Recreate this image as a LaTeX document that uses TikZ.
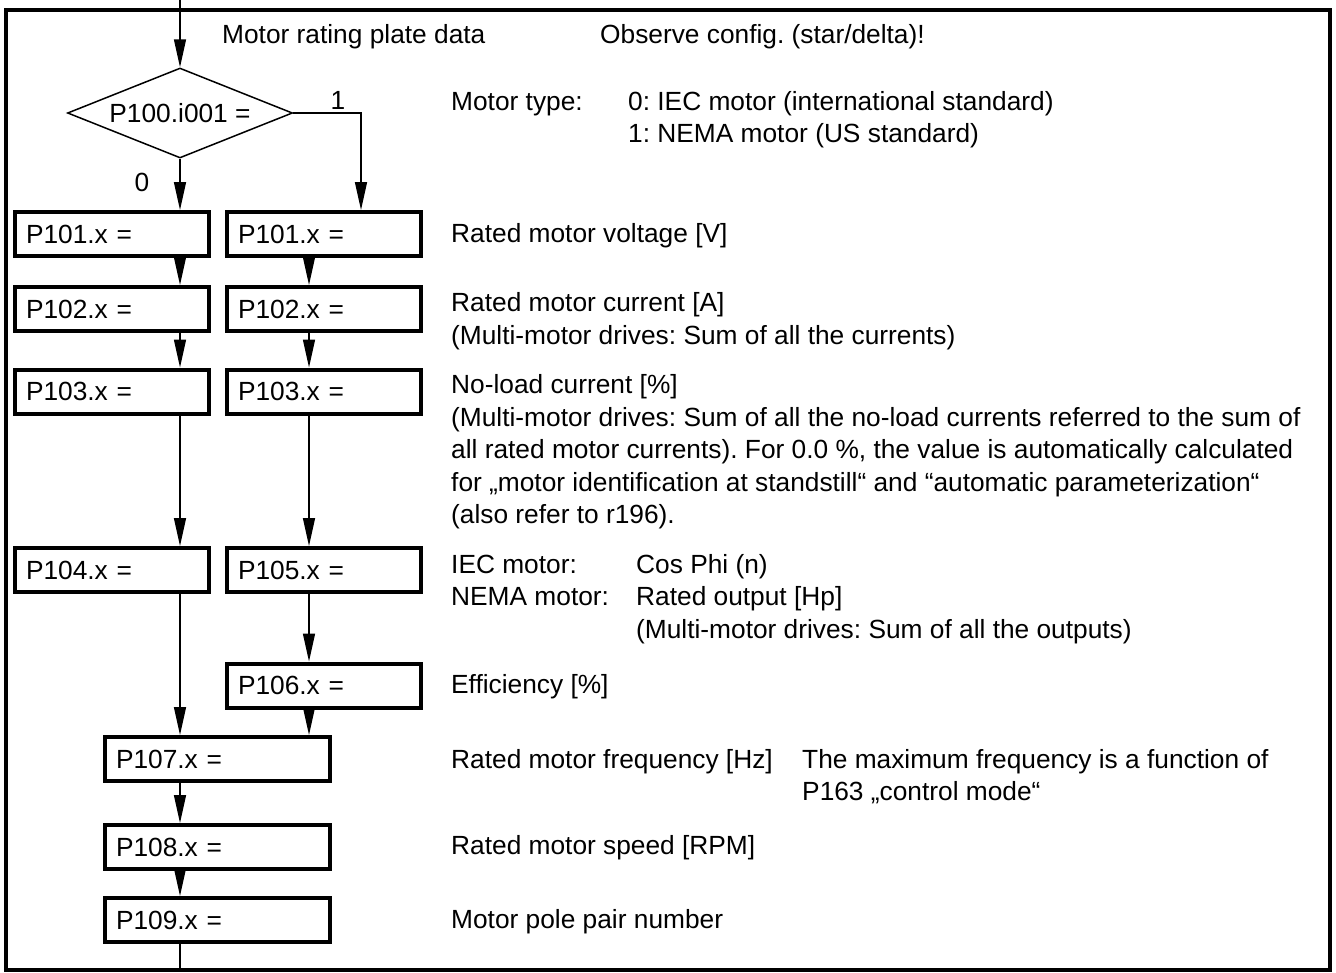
\documentclass[tikz,border=0pt]{standalone}
\usepackage{fontspec}
\setmainfont{Liberation Sans}
\usetikzlibrary{arrows.meta,shapes.geometric}
\frenchspacing
\begin{document}
\begin{tikzpicture}[x=1pt,y=-1pt,
  every node/.style={font=\fontsize{26.3}{30}\selectfont},
  pbox/.style={draw,line width=4pt,rectangle,minimum height=44pt,inner ysep=0pt,inner xsep=11pt,align=left,text width=172pt},
  wbox/.style={pbox,text width=203pt},
  desc/.style={anchor=base west,inner sep=0pt},
  conn/.style={line width=1.5pt,-{Triangle[length=28pt,width=12pt]}},
  plain/.style={line width=1.5pt}]
\useasboundingbox (0,0) rectangle (1336,972);
\draw[line width=4pt] (5.5,9.5) rectangle (1330,969.5);
% decision
\node[draw,line width=1.5pt,shape=diamond,aspect=2.5,minimum width=225pt,minimum height=90pt,inner sep=0pt] (dia) at (180,113) {P100.i001 =};
\coordinate (top) at (180,0);
\coordinate (cl) at (180,0);
\coordinate (cr) at (309,0);
\coordinate (c1) at (361,113);
% boxes
\node[pbox] (b101l) at (112,234) {P101.x =};
\node[pbox] (b101r) at (324,234) {P101.x =};
\node[pbox] (b102l) at (112,309) {P102.x =};
\node[pbox] (b102r) at (324,309) {P102.x =};
\node[pbox] (b103l) at (112,391.5) {P103.x =};
\node[pbox] (b103r) at (324,391.5) {P103.x =};
\node[pbox] (b104) at (112,570) {P104.x =};
\node[pbox] (b105) at (324,570) {P105.x =};
\node[pbox] (b106) at (324,685.5) {P106.x =};
\node[wbox] (b107) at (217.5,759) {P107.x =};
\node[wbox] (b108) at (217.5,847) {P108.x =};
\node[wbox] (b109) at (217.5,920) {P109.x =};
\coordinate (bot) at (180,972);
% connectors
\draw[conn] (top) -- (dia.north);
\draw[conn] (dia.south) -- (b101l.north -| cl);
\draw[conn] (dia.east) -- (c1) -- (b101r.north -| c1);
\node[inner sep=0pt] (l1) at (338,100) {1};
\node[inner sep=0pt] (l0) at (142,182) {0};
\draw[conn] (b101l.south -| cl) -- (b102l.north -| cl);
\draw[conn] (b101r.south -| cr) -- (b102r.north -| cr);
\draw[conn] (b102l.south -| cl) -- (b103l.north -| cl);
\draw[conn] (b102r.south -| cr) -- (b103r.north -| cr);
\draw[conn] (b103l.south -| cl) -- (b104.north -| cl);
\draw[conn] (b103r.south -| cr) -- (b105.north -| cr);
\draw[conn] (b105.south -| cr) -- (b106.north -| cr);
\draw[conn] (b104.south -| cl) -- (b107.north -| cl);
\draw[conn] (b106.south -| cr) -- (b107.north -| cr);
\draw[conn] (b107.south -| cl) -- (b108.north -| cl);
\draw[conn] (b108.south -| cl) -- (b109.north -| cl);
\draw[plain] (b109.south -| cl) -- (bot);
% descriptions
\node[desc] (t0a) at (222,43.5) {Motor rating plate data};
\node[desc] (t0b) at (600,43.5) {Observe config. (star/delta)!};
\node[desc] (t1a) at (451,110.5) {Motor type:};
\node[desc] (t1b) at (628,110.5) {0: IEC motor (international standard)};
\node[desc] (t1c) at (628,142.5) {1: NEMA motor (US standard)};
\node[desc] (t2) at (451,242.5) {Rated motor voltage [V]};
\node[desc] (t3a) at (451,311.5) {Rated motor current [A]};
\node[desc] (t3b) at (451,344.5) {(Multi-motor drives: Sum of all the currents)};
\node[desc] (t4a) at (451,393.5) {No-load current [\%]};
\node[desc] (t4b) at (451,426.5) {(Multi-motor drives: Sum of all the no-load currents referred to the sum of};
\node[desc] (t4c) at (451,458.5) {all rated motor currents). For 0.0 \%, the value is automatically calculated};
\node[desc] (t4d) at (451,491.5) {for „motor identification at standstill“ and “automatic parameterization“};
\node[desc] (t4e) at (451,523.5) {(also refer to r196).};
\node[desc] (t5a) at (451,573.5) {IEC motor:};
\node[desc] (t5b) at (636,573.5) {Cos Phi (n)};
\node[desc] (t5c) at (451,605.5) {NEMA motor:};
\node[desc] (t5d) at (636,605.5) {Rated output [Hp]};
\node[desc] (t5e) at (636,638.5) {(Multi-motor drives: Sum of all the outputs)};
\node[desc] (t6) at (451,693.5) {Efficiency [\%]};
\node[desc] (t7a) at (451,768.5) {Rated motor frequency [Hz]};
\node[desc] (t7b) at (802,768.5) {The maximum frequency is a function of};
\node[desc] (t7c) at (802,800.5) {P163 „control mode“};
\node[desc] (t8) at (451,854.5) {Rated motor speed [RPM]};
\node[desc] (t9) at (451,928.5) {Motor pole pair number};
\end{tikzpicture}
\end{document}
